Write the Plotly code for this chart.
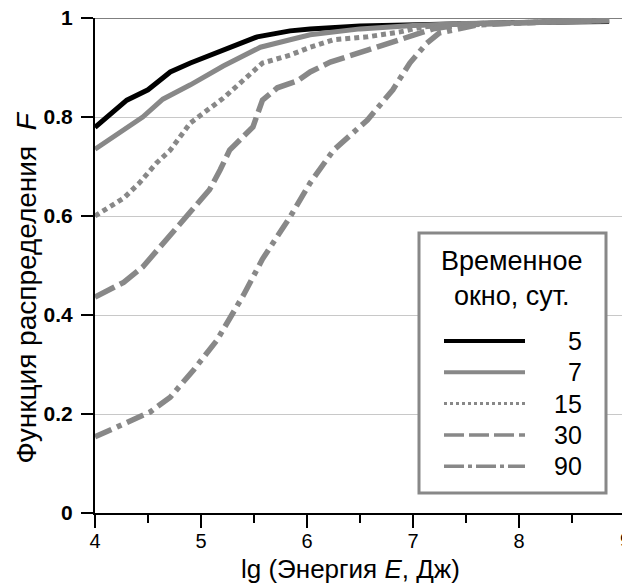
import plotly.graph_objects as go

# ---------------- data ----------------
series_names = ["5", "7", "15", "30", "90"]

x_5 = [4.0, 4.3, 4.5, 4.71, 4.9, 5.21, 5.53, 5.84, 6.03, 6.5, 7.0, 7.5, 8.0, 8.85]
F_5 = [0.779, 0.834, 0.855, 0.891, 0.909, 0.935, 0.962, 0.974, 0.978, 0.984, 0.987, 0.989, 0.991, 0.993]

x_7 = [4.0, 4.45, 4.64, 4.9, 5.21, 5.56, 5.84, 6.03, 6.5, 7.0, 7.5, 8.0, 8.85]
F_7 = [0.735, 0.800, 0.836, 0.865, 0.903, 0.941, 0.956, 0.966, 0.978, 0.985, 0.989, 0.991, 0.994]

x_15 = [4.0, 4.27, 4.42, 4.58, 4.71, 4.9, 5.21, 5.43, 5.58, 5.84, 6.03, 6.25, 6.57, 6.88, 7.09, 7.4, 8.0, 8.85]
F_15 = [0.600, 0.636, 0.667, 0.707, 0.733, 0.788, 0.838, 0.881, 0.909, 0.925, 0.941, 0.956, 0.962, 0.972, 0.982, 0.988, 0.990, 0.995]

x_30 = [4.0, 4.15, 4.27, 4.45, 4.68, 4.9, 5.08, 5.18, 5.27, 5.49, 5.58, 5.72, 5.91, 6.03, 6.22, 6.57, 6.88, 7.19, 7.44, 8.0, 8.85]
F_30 = [0.436, 0.452, 0.466, 0.497, 0.553, 0.606, 0.653, 0.693, 0.733, 0.780, 0.834, 0.859, 0.873, 0.891, 0.911, 0.935, 0.956, 0.978, 0.986, 0.990, 0.996]

x_90 = [4.0, 4.3, 4.52, 4.71, 4.93, 5.15, 5.3, 5.4, 5.58, 5.84, 6.03, 6.25, 6.57, 6.81, 6.97, 7.13, 7.25, 7.44, 7.6, 8.0, 8.85]
F_90 = [0.154, 0.182, 0.204, 0.234, 0.289, 0.349, 0.405, 0.440, 0.513, 0.598, 0.667, 0.733, 0.794, 0.855, 0.909, 0.949, 0.970, 0.980, 0.986, 0.990, 0.996]

x_ticks = [4, 5, 6, 7, 8, 9]
y_ticks = [0, 0.2, 0.4, 0.6, 0.8, 1]
y_ticktext = ["0", "0.2", "0.4", "0.6", "0.8", "1"]

legend_title = "Временное<br>окно, сут."
x_title = "lg (Энергия <i>E</i>, Дж)"
y_title = "Функция распределения\u00a0\u00a0<i>F</i>"

# ---------------- styles ----------------
GREY = "#888888"
styles = [
    dict(color="black", width=5, dash="solid", leg_dash="solid", leg_w=4),
    dict(color=GREY, width=5, dash="solid", leg_dash="solid", leg_w=4),
    dict(color=GREY, width=5, dash="5px,4px", leg_dash="3px,3px", leg_w=3),
    dict(color=GREY, width=5.5, dash="22px,6px", leg_dash="20px,5px", leg_w=3.5),
    dict(color=GREY, width=5.5, dash="18px,6px,5px,6px", leg_dash="20px,4px,4px,4px", leg_w=3.5),
]
xs = [x_5, x_7, x_15, x_30, x_90]
Fs = [F_5, F_7, F_15, F_30, F_90]

W, H = 622, 583
ML, MR, MT, MB = 95, 0, 18, 70
PW, PH = W - ML - MR, H - MT - MB
PX_PER_UNIT = 106.0
x_range = [4, 4 + PW / PX_PER_UNIT]


def px(xp):
    return (xp - ML) / PW


def py(yp):
    return (H - MB - yp) / PH


fig = go.Figure()
for name, x, F, st in zip(series_names, xs, Fs, styles):
    fig.add_trace(go.Scatter(
        x=x, y=F, mode="lines", name=name, showlegend=False,
        line=dict(color=st["color"], width=st["width"], dash=st["dash"]),
    ))

FONT = "Liberation Sans, Arial, sans-serif"

shapes = [
    # thin black line at F = 1
    dict(type="line", xref="paper", yref="y", x0=0, x1=1, y0=1, y1=1,
         line=dict(color="black", width=1), layer="below"),
    # legend frame
    dict(type="rect", xref="paper", yref="paper", x0=px(419), x1=px(606),
         y0=py(493), y1=py(233), line=dict(color=GREY, width=3),
         fillcolor="white", layer="above"),
]
annotations = [
    dict(text=legend_title, xref="paper", yref="paper", x=px(511), y=py(244),
         xanchor="center", yanchor="top", showarrow=False,
         font=dict(family=FONT, size=27, color="black")),
    dict(text=x_title, xref="paper", yref="paper", x=px(350), y=py(586),
         xanchor="center", yanchor="bottom", showarrow=False,
         font=dict(family=FONT, size=26, color="black")),
    dict(text=y_title, xref="paper", yref="paper", x=px(8), y=py(288),
         xanchor="left", yanchor="middle", textangle=-90, showarrow=False,
         font=dict(family=FONT, size=28, color="black")),
    dict(text="9", xref="paper", yref="paper", x=px(625), y=py(527),
         xanchor="center", yanchor="top", showarrow=False,
         font=dict(family=FONT, size=20, color="black")),
]

row0, row_step = 341, 31.3
for i, (name, st) in enumerate(zip(series_names, styles)):
    yr = row0 + i * row_step
    shapes.append(dict(type="line", xref="paper", yref="paper",
                       x0=px(444), x1=px(525), y0=py(yr), y1=py(yr),
                       line=dict(color=st["color"], width=st["leg_w"], dash=st["leg_dash"]),
                       layer="above"))
    annotations.append(dict(text=name, xref="paper", yref="paper", x=px(584), y=py(yr),
                            xanchor="right", yanchor="middle", showarrow=False,
                            font=dict(family=FONT, size=25, color="black")))

fig.update_layout(
    width=W, height=H,
    margin=dict(l=ML, r=MR, t=MT, b=MB, pad=0, autoexpand=False),
    paper_bgcolor="white", plot_bgcolor="white",
    font=dict(family=FONT, color="black"),
    shapes=shapes, annotations=annotations,
    xaxis=dict(range=x_range, tickvals=x_ticks, ticks="outside", ticklen=13,
               tickwidth=2, tickcolor="black", showline=True, linewidth=2,
               linecolor="black", showgrid=False, zeroline=False, automargin=False,
               ticklabelstandoff=-4,
               tickfont=dict(family=FONT, size=20, color="black"),
               minor=dict(dtick=0.5, ticks="outside", ticklen=8, tickwidth=2,
                          tickcolor="black", showgrid=False)),
    yaxis=dict(range=[0, 1], tickvals=y_ticks, ticktext=y_ticktext, ticks="outside",
               ticklen=12, tickwidth=2, tickcolor="black", showline=True,
               linewidth=2, linecolor="black", showgrid=True, gridcolor="#c8c8c8",
               gridwidth=1, zeroline=False, ticklabelstandoff=4, automargin=False,
               tickfont=dict(family=FONT, size=21, color="black", weight="bold")),
    showlegend=False,
)

fig.write_html(
    "out.html",
    config={"displayModeBar": False},
    post_script="document.body.style.margin='0';document.body.style.padding='0';"
                "document.documentElement.style.overflow='hidden';",
)
